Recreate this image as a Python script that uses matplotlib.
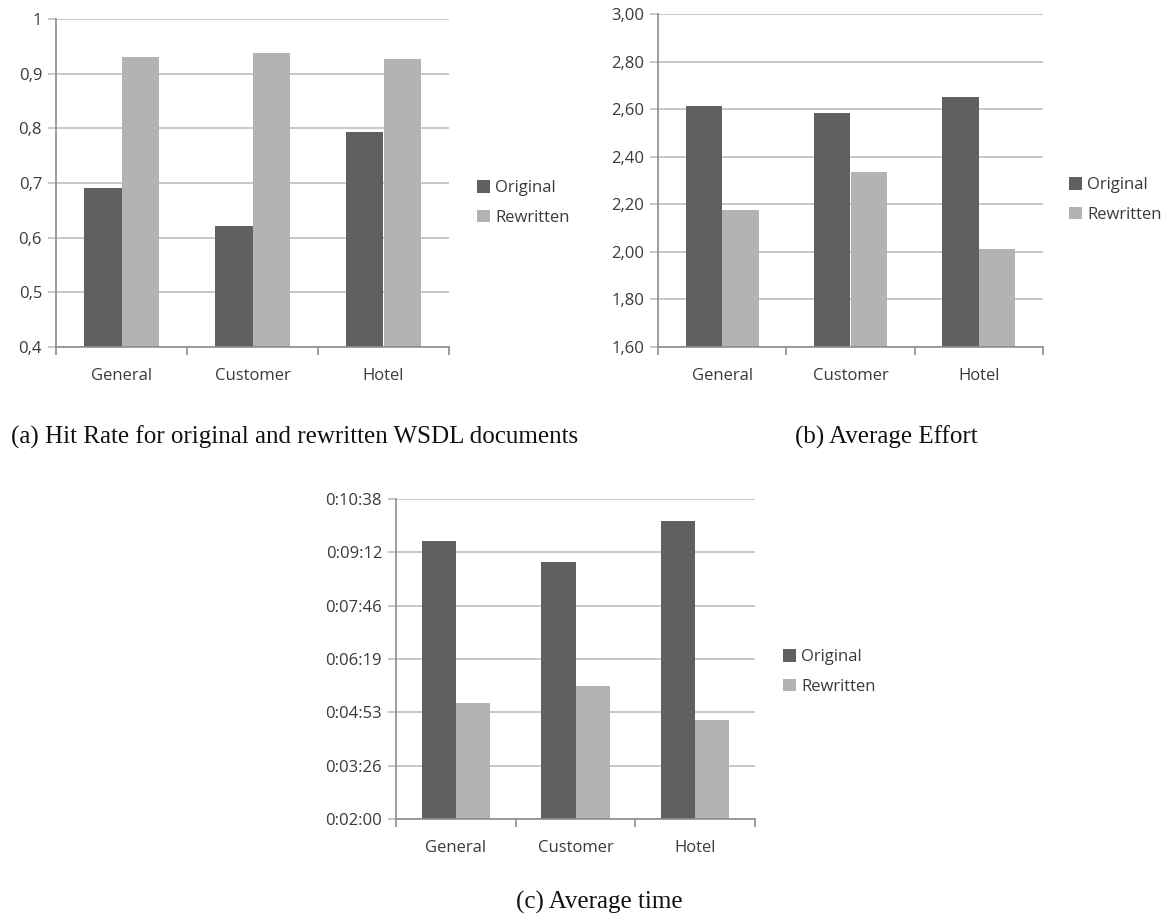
import matplotlib.pyplot as plt
from matplotlib.ticker import FixedLocator, FuncFormatter

categories = ["General", "Customer", "Hotel"]
series_names = ["Original", "Rewritten"]

hit_rate_original = [0.690, 0.622, 0.793]
hit_rate_rewritten = [0.930, 0.937, 0.927]

effort_original = [2.615, 2.582, 2.649]
effort_rewritten = [2.178, 2.336, 2.014]

time_original = ["0:09:30", "0:08:57", "0:10:02"]
time_rewritten = ["0:05:08", "0:05:35", "0:04:40"]

DARK = "#606060"
LIGHT = "#b3b3b3"
GRID = "#bfbfbf"
AXIS = "#8c8c8c"
TEXT = "#3a3a3a"

W, H = 1169, 918


def to_seconds(s):
    h, m, sec = (int(p) for p in s.split(":"))
    return h * 3600 + m * 60 + sec


def hms(v, _pos=None):
    v = int(round(v))
    return f"{v // 3600}:{(v % 3600) // 60:02d}:{v % 60:02d}"


def px_axes(fig, left, top, right, bottom):
    return fig.add_axes([left / W, 1 - bottom / H, (right - left) / W, (bottom - top) / H])


def bar_panel(ax, orig, rew, ymin, ymax, ticks, fmt, legend_xy):
    width = 1 / 3.5
    x = range(len(categories))
    ax.bar([i - width / 2 for i in x], [v - ymin for v in orig], width, bottom=ymin,
           color=DARK, label=series_names[0], zorder=3)
    ax.bar([i + width / 2 for i in x], [v - ymin for v in rew], width, bottom=ymin,
           color=LIGHT, label=series_names[1], zorder=3)
    ax.set_xlim(-0.5, len(categories) - 0.5)
    ax.set_ylim(ymin, ymax)

    ax.yaxis.set_major_locator(FixedLocator(ticks))
    ax.yaxis.set_major_formatter(FuncFormatter(fmt))
    ax.grid(axis="y", color=GRID, linewidth=1.2, zorder=0)
    ax.tick_params(axis="y", length=6, width=1.2, color=GRID, labelsize=12,
                   labelcolor=TEXT, pad=4)

    ax.set_xticks(list(x))
    ax.set_xticklabels(categories)
    ax.set_xticks([i - 0.5 for i in range(len(categories) + 1)], minor=True)
    ax.tick_params(axis="x", which="major", length=0, labelsize=12,
                   labelcolor=TEXT, pad=15)
    ax.tick_params(axis="x", which="minor", length=6, width=1.2, color=AXIS)

    for side in ("top", "right"):
        ax.spines[side].set_visible(False)
    for side in ("left", "bottom"):
        ax.spines[side].set_color(AXIS)
        ax.spines[side].set_linewidth(1.2)
        ax.spines[side].set_zorder(4)

    ax.legend(loc="center left", bbox_to_anchor=legend_xy,
              bbox_transform=ax.figure.transFigure, frameon=False,
              fontsize=12, labelcolor=TEXT, handlelength=0.75,
              handleheight=0.75, handletextpad=0.35, labelspacing=0.8)


def main():
    plt.rcParams["font.family"] = ["Open Sans", "DejaVu Sans"]
    fig = plt.figure(figsize=(W / 100, H / 100), dpi=100)

    # (a) hit rate
    ax_a = px_axes(fig, 56, 19, 449, 347)
    bar_panel(ax_a, hit_rate_original, hit_rate_rewritten, 0.4, 1.0,
              [0.4 + 0.1 * k for k in range(7)],
              lambda v, _p: f"{round(v, 1):g}".replace(".", ","),
              (462 / W, 1 - 203 / H))

    # (b) average effort
    ax_b = px_axes(fig, 658, 14, 1043, 347)
    bar_panel(ax_b, effort_original, effort_rewritten, 1.6, 3.0,
              [1.6 + 0.2 * k for k in range(8)],
              lambda v, _p: f"{v:.2f}".replace(".", ","),
              (1054 / W, 1 - 200 / H))

    # (c) average time, in seconds on the axis
    ax_c = px_axes(fig, 396, 499, 755, 819)
    t_min = 120
    step = 86.4
    bar_panel(ax_c, [to_seconds(t) for t in time_original],
              [to_seconds(t) for t in time_rewritten],
              t_min, t_min + 6 * step,
              [t_min + step * k for k in range(7)], hms,
              (768 / W, 1 - 672 / H))

    cap = dict(family=["Liberation Serif", "DejaVu Serif"], fontsize=18,
               color="#111111", ha="center", va="center")
    fig.text(295 / W, 1 - 437 / H,
             "(a) Hit Rate for original and rewritten WSDL documents", **cap)
    fig.text(886 / W, 1 - 437 / H, "(b) Average Effort", **cap)
    fig.text(599 / W, 1 - 902 / H, "(c) Average time", **cap)

    fig.savefig("out.png", dpi=100, facecolor="white")


if __name__ == "__main__":
    main()
